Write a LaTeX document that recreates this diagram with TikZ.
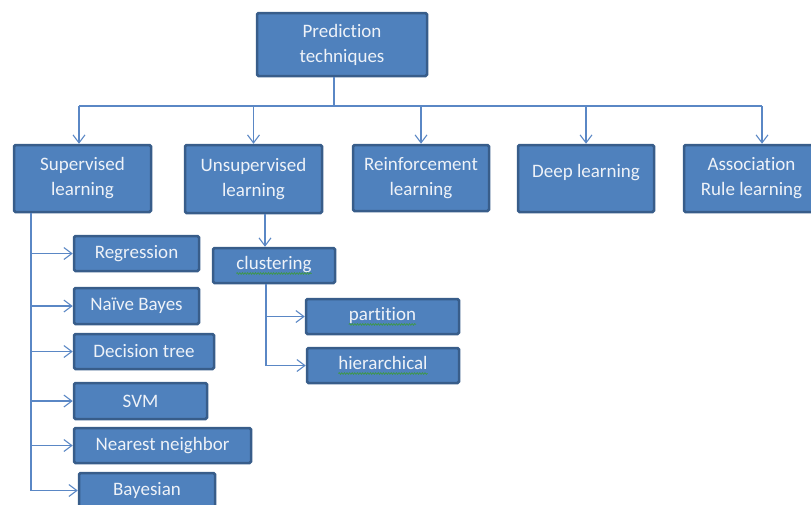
\documentclass[tikz,border=0pt]{standalone}
\usepackage{fontspec}
\setmainfont{Carlito}[Ligatures=NoCommon]
\usepackage{tikz}
\usetikzlibrary{arrows.meta,positioning,decorations.pathmorphing}
\definecolor{boxfill}{HTML}{4F81BD}
\definecolor{boxline}{HTML}{385D8A}
\definecolor{wirecol}{HTML}{5A87C5}
\definecolor{boxtext}{HTML}{EEF2F8}
\definecolor{squig}{HTML}{3C9A3C}
\newcommand{\spellmark}[1]{\tikz[baseline=(w.base)]{\node[inner sep=0pt,outer sep=0pt,minimum width=0pt,minimum height=0pt,text=boxtext] (w) {#1};%
\draw[squig,line width=0.6pt,rounded corners=0pt,decorate,decoration={snake,amplitude=0.9pt,segment length=2.6pt}] ([yshift=-4pt]w.base west) -- ([yshift=-4pt]w.base east);}}

\begin{document}
\begin{tikzpicture}[x=1pt,y=-1pt,
  box/.style={draw=boxline,fill=boxfill,line width=2.5pt,rounded corners=1.5pt,
    text=boxtext,align=center,font=\fontsize{19}{25}\selectfont},
  wire/.style={draw=wirecol,line width=1.1pt},
  >={Straight Barb[length=8pt,width=12pt,line width=1.1pt]}]
\useasboundingbox (0,0) rectangle (811,504);
\node[box,minimum width=170pt,minimum height=63pt] (pred) at (342,44.5) {Prediction\\techniques};
\node[box,minimum width=137pt,minimum height=67pt] (sup) at (82.5,178.5) {Supervised\\learning};
\node[box,minimum width=137pt,minimum height=68pt] (unsup) at (253.5,179) {Unsupervised\\learning};
\node[box,minimum width=136pt,minimum height=66pt] (reinf) at (421,178) {Reinforcement\\learning};
\node[box,minimum width=136pt,minimum height=67pt] (deep) at (586,178.5) {\raisebox{16pt}{Deep learning}};
\node[box,minimum width=135pt,minimum height=67pt] (assoc) at (751.5,178.5) {Association\\Rule learning};
\node[box,minimum width=125pt,minimum height=35pt] (reg) at (136.5,253.5) {Regression};
\node[box,minimum width=125pt,minimum height=36pt] (nb) at (136.5,306) {Naïve Bayes};
\node[box,minimum width=140pt,minimum height=35pt] (dt) at (144,351.5) {Decision tree};
\node[box,minimum width=133pt,minimum height=36pt] (svm) at (140.5,401) {SVM};
\node[box,minimum width=177pt,minimum height=35pt] (nn) at (162.5,445.5) {Nearest neighbor};
\node[box,minimum width=136pt,minimum height=35pt] (bay) at (147,490.5) {Bayesian};
\node[box,minimum width=122pt,minimum height=35pt] (clus) at (274,265.5) {\spellmark{clustering}};
\node[box,minimum width=153pt,minimum height=35pt] (part) at (382.5,316.5) {\spellmark{partition}};
\node[box,minimum width=152pt,minimum height=35pt] (hier) at (383,365.5) {\spellmark{hierarchical}};

\coordinate (hub) at (334,106);
\coordinate (busL) at (79,106);
\coordinate (busR) at (762,106);
\draw[wire] (pred.south -| hub) -- (hub);
\draw[wire] (busL) -- (busR);
\draw[wire,->] (busL) -- (busL |- sup.north);
\foreach \n in {unsup,reinf,deep}
  \draw[wire,->] (\n.north |- hub) -- (\n.north);
\draw[wire,->] (busR) -- (busR |- assoc.north);

\coordinate (trunkA) at ([xshift=-51.5pt]sup.south);
\draw[wire] (trunkA) -- (trunkA |- bay.west);
\foreach \n in {reg,nb,dt,svm,nn,bay}
  \draw[wire,->] (trunkA |- \n.west) -- (\n.west);

\draw[wire,->] ([xshift=11.5pt]unsup.south) -- ([xshift=11.5pt]unsup.south |- clus.north);
\coordinate (trunkB) at ([xshift=-8pt]clus.south);
\draw[wire] (trunkB) -- (trunkB |- hier.west);
\foreach \n in {part,hier}
  \draw[wire,->] (trunkB |- \n.west) -- (\n.west);
\end{tikzpicture}
\end{document}
